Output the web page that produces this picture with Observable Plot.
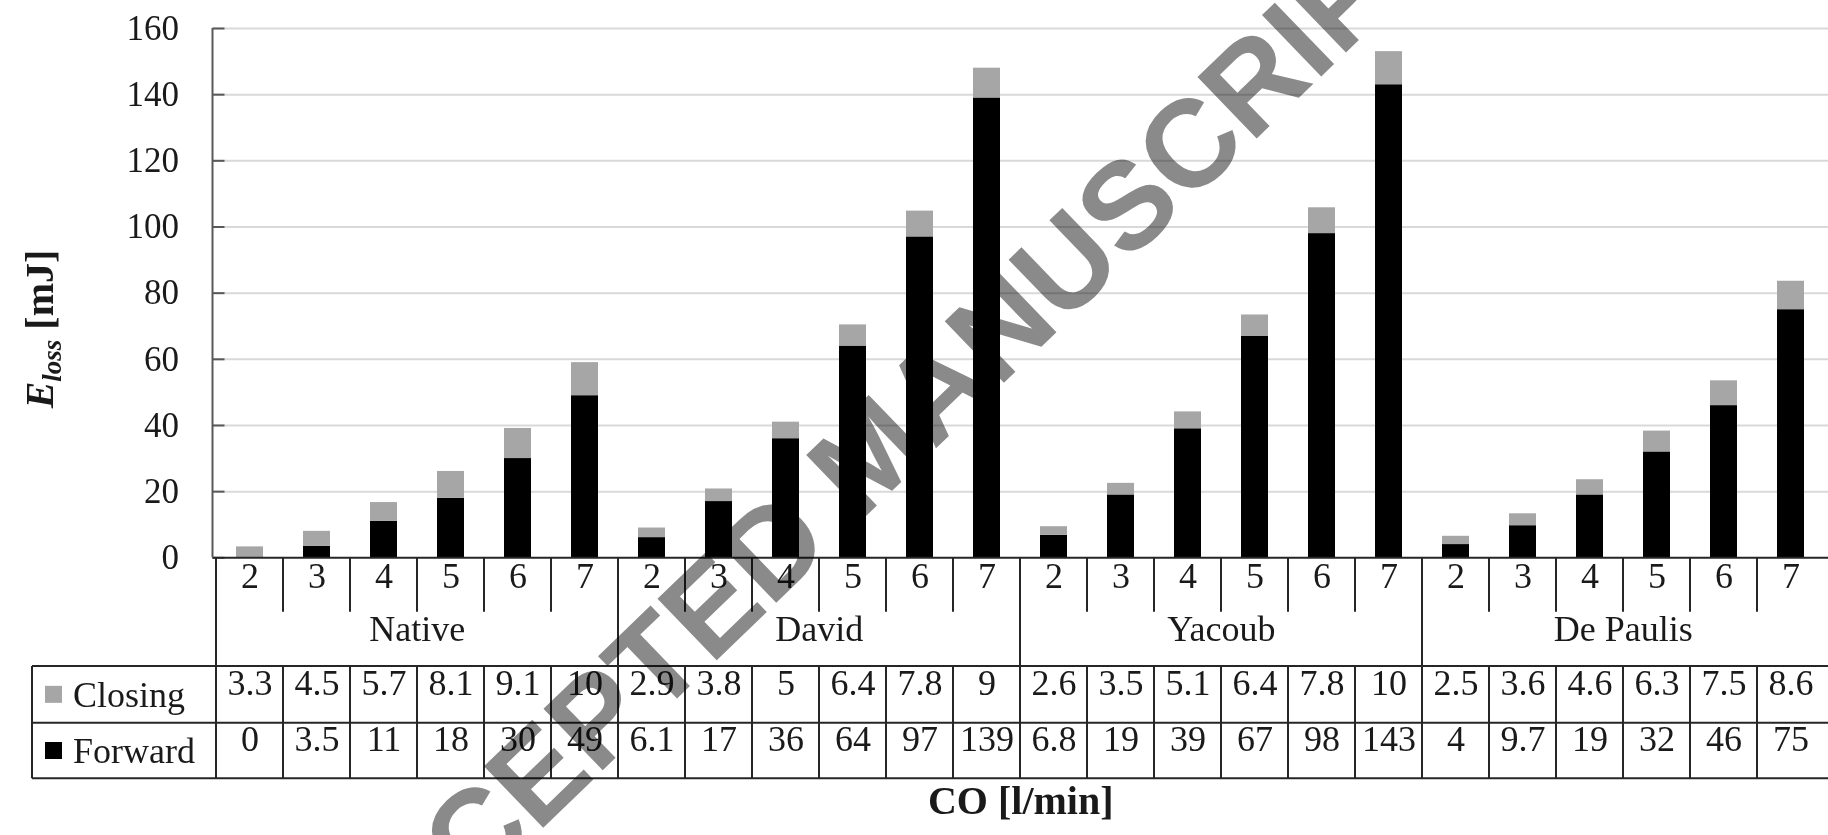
<!DOCTYPE html>
<html>
<head>
<meta charset="utf-8">
<script src="https://cdn.jsdelivr.net/npm/d3@7"></script>
<script src="https://cdn.jsdelivr.net/npm/@observablehq/plot@0.6"></script>
<style>
  html, body { margin: 0; padding: 0; background: #ffffff; overflow: hidden; }
  #chart { width: 1828px; height: 835px; }
</style>
</head>
<body>
<div id="chart"></div>
<script>
// ---------------- data ----------------
const groups = ["Native", "David", "Yacoub", "De Paulis"];
const coValues = [2, 3, 4, 5, 6, 7];
const closing = [3.3, 4.5, 5.7, 8.1, 9.1, 10,
                 2.9, 3.8, 5, 6.4, 7.8, 9,
                 2.6, 3.5, 5.1, 6.4, 7.8, 10,
                 2.5, 3.6, 4.6, 6.3, 7.5, 8.6];
const forward = [0, 3.5, 11, 18, 30, 49,
                 6.1, 17, 36, 64, 97, 139,
                 6.8, 19, 39, 67, 98, 143,
                 4, 9.7, 19, 32, 46, 75];
const yTicks = [0, 20, 40, 60, 80, 100, 120, 140, 160];
const seriesNames = ["Forward", "Closing"];
const seriesColors = ["#000000", "#a6a6a6"];
const xTitle = "CO [l/min]";
const watermark = "ACCEPTED MANUSCRIPT";

// ---------------- tables built from the arrays ----------------
const rows = [];
groups.forEach((g, gi) => coValues.forEach((c, ci) => {
  const i = gi * coValues.length + ci;
  rows.push({key: `${g}|${c}`, group: g, co: c, closing: closing[i], forward: forward[i], first: ci === 0});
}));
const stacked = rows.flatMap(r => [
  {key: r.key, series: "Forward", value: r.forward},
  {key: r.key, series: "Closing", value: r.closing}
]);

// ---------------- layout ----------------
const W = 1828, H = 835;
const mL = 212.5, mR = 0, mT = 28, frameBottom = 557.3, mB = H - frameBottom;
const step = (W - mL - mR) / rows.length;
const serif = "'Liberation Serif', 'Times New Roman', Times, serif";
const ink = "#1a1a1a";
const lineCol = "#262626";
const rowCoDy = 29.7, rowGroupDy = 82.7, rowClosingDy = 137.5, rowForwardDy = 193.2, xTitleDy = 255.7;
const sepBottom = 611.7, tableTop = 666, rowDiv = 722.7, tableBottom = 778.3, tableLeft = 32;

const chart = Plot.plot({
  width: W, height: H,
  marginLeft: mL, marginRight: mR, marginTop: mT, marginBottom: mB,
  style: {fontFamily: serif, fontSize: "35px", color: ink, background: "#ffffff", overflow: "visible"},
  x: {domain: rows.map(d => d.key), paddingInner: 0.59, paddingOuter: 0.295, axis: null},
  y: {domain: [0, 160], ticks: yTicks, tickSize: 0, tickPadding: 34, label: null},
  color: {domain: seriesNames, range: seriesColors},
  marks: [
    Plot.ruleY(yTicks.filter(d => d > 0), {stroke: "#d9d9d9", strokeWidth: 2}),
    Plot.barY(stacked, {x: "key", y: "value", fill: "series", order: seriesNames}),
    Plot.ruleY(yTicks, {stroke: "#595959", strokeWidth: 2, insetRight: (W - mL - mR) - 12}),
    Plot.ruleY([0], {stroke: lineCol, strokeWidth: 2}),
    Plot.text(rows, {x: "key", text: d => String(d.co), frameAnchor: "bottom", dy: rowCoDy, fontSize: 36, fill: ink}),
    Plot.text(groups, {x: g => `${g}|${coValues[3]}`, text: d => d, frameAnchor: "bottom", dy: rowGroupDy, dx: -step / 2, fontSize: 36, fill: ink}),
    Plot.text(rows, {x: "key", text: d => String(d.closing), frameAnchor: "bottom", dy: rowClosingDy, fontSize: 36, fill: ink}),
    Plot.text(rows, {x: "key", text: d => String(d.forward), frameAnchor: "bottom", dy: rowForwardDy, fontSize: 36, fill: ink}),
    Plot.text([xTitle], {text: d => d, frameAnchor: "bottom", dy: xTitleDy, fontSize: 40, fontWeight: "bold", fill: ink})
  ]
});
document.getElementById("chart").appendChild(chart);

// ---------------- table lines, row labels, titles (positioned with Plot's x scale) ----------------
const svg = d3.select(chart);
const xs = chart.scale("x");
const st = xs.step || step;
const bw = xs.bandwidth;
const leftEdge = k => xs.apply(k) + bw / 2 - st / 2;

const gl = svg.append("g").attr("stroke", lineCol).attr("stroke-width", 2).attr("fill", "none");
const line = (x1, y1, x2, y2, col) => gl.append("line")
  .attr("x1", x1).attr("y1", y1).attr("x2", x2).attr("y2", y2)
  .attr("stroke", col || lineCol);

// y axis line
line(mL, mT, mL, frameBottom, "#595959");
rows.forEach(r => {
  const x = leftEdge(r.key);
  if (r.first) {
    line(x, frameBottom, x, tableBottom);
  } else {
    line(x, frameBottom, x, sepBottom);
    line(x, tableTop, x, tableBottom);
  }
});
line(tableLeft, tableTop, tableLeft, tableBottom);
[tableTop, rowDiv, tableBottom].forEach(y => line(tableLeft, y, W, y));

// row labels with legend swatches
const legendRows = [
  {name: "Closing", color: seriesColors[1], cy: (tableTop + rowDiv) / 2},
  {name: "Forward", color: seriesColors[0], cy: (rowDiv + tableBottom) / 2}
];
legendRows.forEach(r => {
  svg.append("rect").attr("x", 45).attr("y", r.cy - 8.5).attr("width", 17).attr("height", 17).attr("fill", r.color);
  svg.append("text").attr("x", 73).attr("y", r.cy).attr("dy", "0.34em")
    .attr("text-anchor", "start")
    .attr("font-family", serif).attr("font-size", 36).attr("fill", ink).text(r.name);
});

// y axis title: E_loss [mJ]
const yt = svg.append("text")
  .attr("transform", "translate(53,329) rotate(-90)")
  .attr("text-anchor", "middle")
  .attr("font-family", serif).attr("font-weight", "bold").attr("font-size", 40).attr("fill", ink);
yt.append("tspan").attr("font-style", "italic").text("E");
yt.append("tspan").attr("font-style", "italic").attr("font-size", 27).attr("dy", 8).text("loss");
yt.append("tspan").attr("dy", -8).text(" [mJ]");

// watermark
svg.append("text")
  .attr("transform", "translate(868,452) rotate(-44)")
  .attr("text-anchor", "middle").attr("dy", "0.36em")
  .attr("font-family", "'Liberation Sans', Arial, sans-serif").attr("font-weight", "bold")
  .attr("font-size", 124).attr("fill", "#8a8a8a")
  .style("mix-blend-mode", "multiply")
  .text(watermark);
</script>
</body>
</html>
